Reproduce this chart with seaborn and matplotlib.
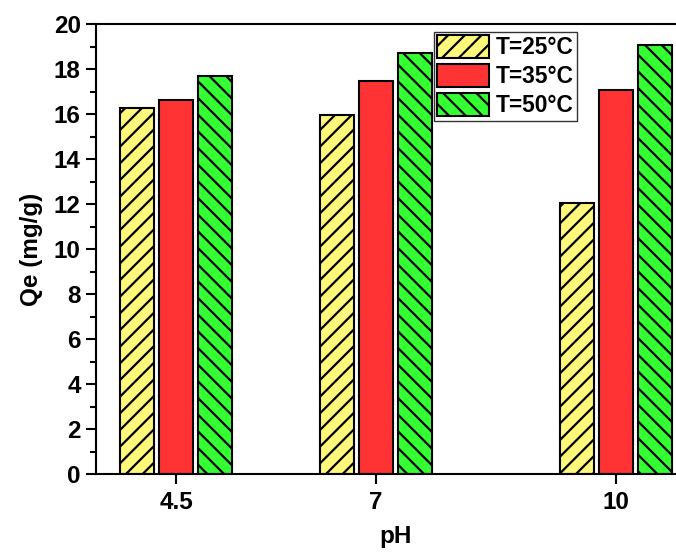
import numpy as np
import pandas as pd
import matplotlib
matplotlib.use("Agg")
import matplotlib.pyplot as plt
import seaborn as sns
from matplotlib.ticker import MultipleLocator

ph = [4.5, 7, 10]
temps = ["T=25°C", "T=35°C", "T=50°C"]
qe_25 = [16.28, 15.95, 12.05]
qe_35 = [16.62, 17.45, 17.05]
qe_50 = [17.67, 18.72, 19.08]
colors = ["#FFF87A", "#FF3333", "#33FF33"]
hatches = ["//", None, "\\\\"]

sns.set_style("ticks")
plt.rcParams['font.family'] = ['Liberation Sans', 'DejaVu Sans']
plt.rcParams['font.weight'] = 'bold'
plt.rcParams['hatch.linewidth'] = 1.6
for k in ['text.color', 'axes.labelcolor', 'xtick.color', 'ytick.color', 'axes.edgecolor']:
    plt.rcParams[k] = 'black'

df = pd.DataFrame({
    "pH": ph * 3,
    "Qe": qe_25 + qe_35 + qe_50,
    "T": [t for t in temps for _ in ph],
})

fig = plt.figure(figsize=(6.76, 5.52), dpi=100)
ax = fig.add_axes([96 / 676, 78 / 552, 600 / 676, 450 / 552])

sns.barplot(data=df, x="pH", y="Qe", hue="T", hue_order=temps,
            palette=colors, native_scale=True, width=0.585, gap=0.13,
            edgecolor="black", linewidth=1.5, legend=False, ax=ax,
            saturation=1)

for cont, h, lab in zip(ax.containers, hatches, temps):
    cont.set_label(lab)
    for p in cont.patches:
        if h:
            p.set_hatch(h)
        p.set_edgecolor("black")

ax.set_xlim(3.5, 11)
ax.set_ylim(0, 20)
ax.set_xticks(ph)
ax.set_xticklabels(["4.5", "7", "10"])
ax.yaxis.set_major_locator(MultipleLocator(2))
ax.yaxis.set_minor_locator(MultipleLocator(1))
ax.tick_params(axis='both', which='major', direction='out', length=7, width=1.5,
               labelsize=17.5, colors='black')
ax.tick_params(axis='x', which='major', pad=5)
ax.tick_params(axis='y', which='major', pad=4)
ax.tick_params(axis='y', which='minor', direction='out', length=4, width=1.5)
for lbl in ax.get_xticklabels() + ax.get_yticklabels():
    lbl.set_fontweight('bold')
for s in ax.spines.values():
    s.set_linewidth(1.5)
    s.set_visible(True)
    s.set_color('black')

ax.set_xlabel("pH", fontsize=17.5, fontweight='bold', labelpad=8)
ax.set_ylabel("Qe (mg/g)", fontsize=17.5, fontweight='bold')
ax.yaxis.set_label_coords(-(96 - 43) / 600, 0.5)

leg = ax.legend(handles=ax.containers, labels=temps, loc='upper left',
                bbox_to_anchor=((433.5 - 96) / 600, (474 - 31.5) / 450),
                borderaxespad=0, frameon=True, fancybox=False,
                edgecolor='black', handlelength=2.28,
                handleheight=1.2, labelspacing=0.2, handletextpad=0.3,
                borderpad=0.15, prop={'weight': 'bold', 'size': 16.4})
leg.get_frame().set_linewidth(1.0)

fig.savefig("out.png", dpi=100)
